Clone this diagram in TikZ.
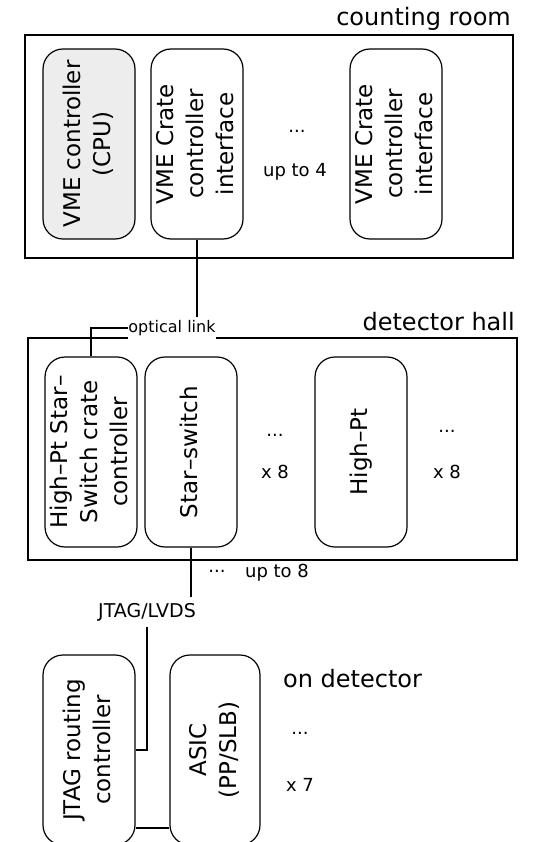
\documentclass[tikz,border=0pt]{standalone}
\usepackage{fontspec}
\usepackage{graphicx}
\setmainfont{DejaVu Sans}
\usetikzlibrary{backgrounds}
\pgfdeclarelayer{wires}
\pgfsetlayers{background,wires,main}
\newcommand{\vlines}[1]{\rotatebox{90}{\begin{tabular}{@{}c@{}}#1\end{tabular}}}
\tikzset{
  unit/.style={draw, line width=1.2pt, rounded corners=20pt, minimum width=92pt,
    minimum height=190pt, inner sep=0pt, font=\fontsize{23}{30}\selectfont},
  zone/.style={draw, line width=1.4pt},
  head/.style={font=\fontsize{24}{28}\selectfont, inner sep=0pt},
  note/.style={font=\fontsize{18}{22}\selectfont, inner sep=0pt},
  wire/.style={line width=1.2pt},
  tag/.style={fill=white, inner xsep=0pt, inner ysep=0pt}
}
\begin{document}
\begin{tikzpicture}[x=1pt,y=-1pt]
\begin{pgfonlayer}{background}
\fill[white] (0,0) rectangle (547,842);
\end{pgfonlayer}
\useasboundingbox (0,0) rectangle (547,842);

% counting room
\draw[zone] (25,35) rectangle (513,258);
\node[head, anchor=base east] (hcr) at (511,26) {counting room};
\node[unit, fill=black!7] (vme) at (89,144) {\vlines{VME controller\\(CPU)}};
\node[unit] (crate1) at (197,144) {\vlines{VME Crate\\controller\\interface}};
\node[unit] (crate2) at (396,144) {\vlines{VME Crate\\controller\\interface}};
\node[note] (d1) at (297,131) {...};
\node[note] (u4) at (295,172) {up to 4};

% detector hall
\draw[zone] (28,338) rectangle (517,560);
\node[head, anchor=base east] (hdh) at (515,330) {detector hall};
\node[unit] (hpss) at (91,452) {\vlines{High–Pt Star–\\Switch crate\\controller}};
\node[unit] (star) at (191,452) {\vlines{Star–switch}};
\node[unit] (hpt) at (361,452) {\vlines{High–Pt}};
\node[note] (d2) at (275,435) {...};
\node[note] (x8a) at (275,472) {x 8};
\node[note] (d3) at (447,431) {...};
\node[note] (x8b) at (447,472) {x 8};
\node[note] (d4) at (217,571) {...};
\node[note] (u8) at (277,573) {up to 8};

% labels on links
\node[tag, font=\fontsize{16}{18}\selectfont, minimum height=22pt] (optl) at (172,328) {optical link};
\node[tag, font=\fontsize{19}{22}\selectfont, minimum height=30pt, inner xsep=2pt] (jl) at (147,612) {JTAG/LVDS};

% on detector
\node[unit] (jtag) at (89,750) {\vlines{JTAG routing\\controller}};
\node[unit, minimum width=90pt] (asic) at (215,750) {\vlines{ASIC\\(PP/SLB)}};
\node[head, anchor=base west] (hod) at (283,687) {on detector};
\node[note] (d5) at (300,733) {...};
\node[note] (x7) at (300,785) {x 7};

% connectors
\begin{pgfonlayer}{wires}
\draw[wire] (crate1.south) -- (crate1.south |- optl.center);
\draw[wire] (optl.west) -| (hpss.north);
\draw[wire] (star.south) |- (jl.center) |- (jtag.east);
\draw[wire] ([yshift=-78pt]jtag.east) -- ([yshift=-78pt]asic.west);
\end{pgfonlayer}
\end{tikzpicture}
\end{document}
